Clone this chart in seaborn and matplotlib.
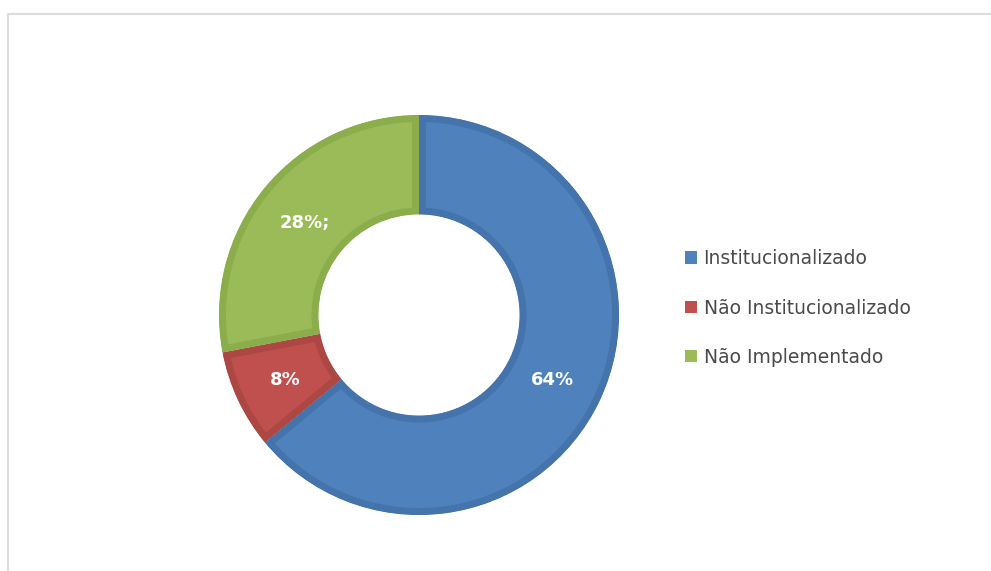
import matplotlib
matplotlib.use("Agg")
import matplotlib.pyplot as plt
from matplotlib.patches import Patch
from matplotlib.lines import Line2D
import numpy as np
import seaborn as sns

categories = ["Institucionalizado", "Não Institucionalizado", "Não Implementado"]
values = [64, 8, 28]
value_labels = ["64%", "8%", "28%;"]

sns.set_theme(style="white")
plt.rcParams["font.family"] = ["DejaVu Sans"]

fill_colors = sns.color_palette(["#4F81BD", "#C0504D", "#9BBB59"])
edge_colors = ["#4573AB", "#AD4744", "#8BAD4C"]

W, H = 991, 571
fig = plt.figure(figsize=(W / 100, H / 100), dpi=100)
fig.patch.set_facecolor("white")

cx, cy, R = 419, 315, 201
ax = fig.add_axes([(cx - R) / W, (H - cy - R) / H, 2 * R / W, 2 * R / H])

wedges, _ = ax.pie(values, startangle=90, counterclock=False, radius=1.0,
                   colors=fill_colors,
                   wedgeprops=dict(width=0.497, linewidth=10))
for w, ec in zip(wedges, edge_colors):
    w.set_edgecolor(ec)
    w.set_clip_on(True)
    w.set_clip_path(w)

ax.set_xlim(-1.005, 1.005)
ax.set_ylim(-1.005, 1.005)
ax.set_aspect("equal")
ax.axis("off")

angle = 90.0
total = sum(values)
for v, lab in zip(values, value_labels):
    span = 360.0 * v / total
    mid = np.deg2rad(angle - span / 2)
    angle -= span
    ax.text(0.74 * np.cos(mid), 0.74 * np.sin(mid) - 0.012, lab, color="white",
            fontsize=13, fontweight="bold", ha="center", va="center")

handles = [Patch(facecolor=c, edgecolor="none") for c in fill_colors]
fig.legend(handles, categories, loc="center left",
           bbox_to_anchor=(685 / W, (H - 308) / H), bbox_transform=fig.transFigure,
           frameon=False, fontsize=13.5, labelcolor="#4A4A4A",
           handlelength=0.64, handleheight=0.64, handletextpad=0.35,
           labelspacing=1.62, borderpad=0, borderaxespad=0)

fig.add_artist(Line2D([8 / W, 1.0], [(H - 14) / H, (H - 14) / H],
                      transform=fig.transFigure, color="#DCDCDC", linewidth=1.5))
fig.add_artist(Line2D([8 / W, 8 / W], [0, (H - 14) / H],
                      transform=fig.transFigure, color="#DCDCDC", linewidth=1.5))

fig.savefig("out.png", dpi=100, facecolor="white")
